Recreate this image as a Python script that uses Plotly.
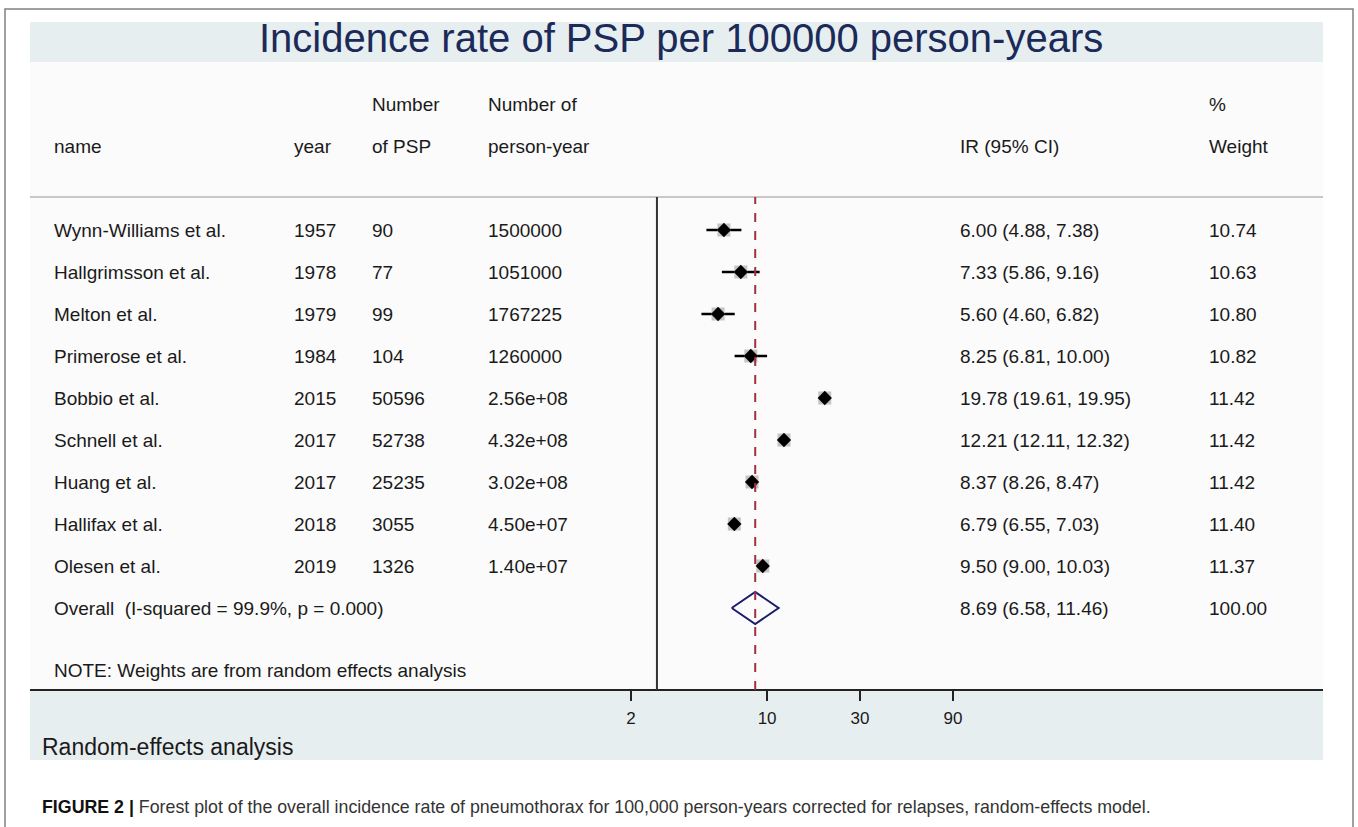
import math
import plotly.graph_objects as go

# ---------------- data ----------------
names = ["Wynn-Williams et al.", "Hallgrimsson et al.", "Melton et al.", "Primerose et al.",
         "Bobbio et al.", "Schnell et al.", "Huang et al.", "Hallifax et al.", "Olesen et al."]
years = ["1957", "1978", "1979", "1984", "2015", "2017", "2017", "2018", "2019"]
n_psp = ["90", "77", "99", "104", "50596", "52738", "25235", "3055", "1326"]
person_years = ["1500000", "1051000", "1767225", "1260000", "2.56e+08", "4.32e+08",
                "3.02e+08", "4.50e+07", "1.40e+07"]
ir = [6.00, 7.33, 5.60, 8.25, 19.78, 12.21, 8.37, 6.79, 9.50]
ir_lo = [4.88, 5.86, 4.60, 6.81, 19.61, 12.11, 8.26, 6.55, 9.00]
ir_hi = [7.38, 9.16, 6.82, 10.00, 19.95, 12.32, 8.47, 7.03, 10.03]
weights = ["10.74", "10.63", "10.80", "10.82", "11.42", "11.42", "11.42", "11.40", "11.37"]

overall_label = "Overall  (I-squared = 99.9%, p = 0.000)"
overall_ir, overall_lo, overall_hi = 8.69, 6.58, 11.46
overall_weight = "100.00"
null_value = 2.718
tick_vals = [2, 10, 30, 90]
tick_text = ["2", "10", "30", "90"]

# ---------------- geometry ----------------
W, H = 1358, 827
ROW0, ROWH = 230, 42
X0, X1 = 30, 1323
PX_PER_DEC = 194.7
a = math.log10(2) - (631 - X0) / PX_PER_DEC
b = a + (X1 - X0) / PX_PER_DEC

def px(x):
    return x / W

def py(y):
    return 1 - y / H

rows = list(range(len(names)))
overall_row = len(names)

TXT = "#1a1a1a"
FONT = "Liberation Sans, Arial, sans-serif"
BAND = "#e7eef0"
FS = 19

fig = go.Figure()

# CI lines
for i in rows:
    fig.add_trace(go.Scatter(x=[ir_lo[i], ir_hi[i]], y=[i, i], mode="lines",
                             line=dict(color="black", width=2.5), showlegend=False,
                             hoverinfo="skip"))
# weight boxes
fig.add_trace(go.Scatter(x=ir, y=rows, mode="markers",
                         marker=dict(symbol="square", size=13, color="#c4c4c4"),
                         showlegend=False, hoverinfo="skip"))
# point estimates
fig.add_trace(go.Scatter(x=ir, y=rows, mode="markers",
                         marker=dict(symbol="diamond", size=11, color="black"),
                         showlegend=False))
# overall diamond
dh = 16 / ROWH
fig.add_trace(go.Scatter(
    x=[overall_lo, overall_ir, overall_hi, overall_ir, overall_lo],
    y=[overall_row, overall_row - dh, overall_row, overall_row + dh, overall_row],
    mode="lines", line=dict(color="#1c1c6c", width=2), showlegend=False, hoverinfo="skip"))

shapes = []
# outer frame
shapes.append(dict(type="rect", xref="paper", yref="paper", x0=px(5), x1=px(1353),
                   y0=py(840), y1=py(9), line=dict(color="#808080", width=1.5), layer="below"))
# title band
shapes.append(dict(type="rect", xref="paper", yref="paper", x0=px(X0), x1=px(X1),
                   y0=py(62), y1=py(22), fillcolor=BAND, line=dict(width=0), layer="below"))
# inner panel
shapes.append(dict(type="rect", xref="paper", yref="paper", x0=px(X0), x1=px(X1),
                   y0=py(690), y1=py(62), fillcolor="#fbfbfb", line=dict(width=0), layer="below"))
# bottom band
shapes.append(dict(type="rect", xref="paper", yref="paper", x0=px(X0), x1=px(X1),
                   y0=py(760), y1=py(690), fillcolor=BAND, line=dict(width=0), layer="below"))
# header separator
shapes.append(dict(type="line", xref="paper", yref="paper", x0=px(X0), x1=px(X1),
                   y0=py(197), y1=py(197), line=dict(color="#c8c8c8", width=2)))
# null line
shapes.append(dict(type="line", xref="x", yref="paper", x0=null_value, x1=null_value,
                   y0=py(690), y1=py(197), line=dict(color="#333333", width=2)))
# overall estimate dashed line
shapes.append(dict(type="line", xref="x", yref="paper", x0=overall_ir, x1=overall_ir,
                   y0=py(690), y1=py(197), line=dict(color="#a3303f", width=2, dash="dash")))

ann = []

def t(x, y, text, size=FS, color=TXT, yref="paper", xanchor="left"):
    ann.append(dict(x=px(x), y=y, xref="paper", yref=yref, text=text, showarrow=False,
                    xanchor=xanchor, yanchor="middle", font=dict(size=size, color=color, family=FONT)))

# title
t(681, py(38), "Incidence rate of PSP per 100000 person-years", size=40, color="#1b2a58", xanchor="center")
# headers
t(370, py(104), "Number")
t(486, py(104), "Number of")
t(1207, py(104), "%")
t(52, py(146), "name")
t(292, py(146), "year")
t(370, py(146), "of PSP")
t(486, py(146), "person-year")
t(958, py(146), "IR (95% CI)")
t(1207, py(146), "Weight")

for i in rows:
    t(52, i, names[i], yref="y")
    t(292, i, years[i], yref="y")
    t(370, i, n_psp[i], yref="y")
    t(486, i, person_years[i], yref="y")
    t(958, i, f"{ir[i]:.2f} ({ir_lo[i]:.2f}, {ir_hi[i]:.2f})", yref="y")
    t(1207, i, weights[i], yref="y")

t(52, overall_row, overall_label, yref="y")
t(958, overall_row, f"{overall_ir:.2f} ({overall_lo:.2f}, {overall_hi:.2f})", yref="y")
t(1207, overall_row, overall_weight, yref="y")

t(52, py(670), "NOTE: Weights are from random effects analysis")
t(40, py(747), "Random-effects analysis", size=23)
t(40, py(807), "<b><span style='color:#111111'>FIGURE 2 |</span></b> Forest plot of the overall incidence rate of pneumothorax for 100,000 person-years corrected for relapses, random-effects model.",
  size=17.8, color="#333333")

fig.update_layout(
    width=W, height=H, margin=dict(l=0, r=0, t=0, b=0),
    paper_bgcolor="white", plot_bgcolor="rgba(0,0,0,0)",
    shapes=shapes, annotations=ann, showlegend=False,
    xaxis=dict(type="log", range=[a, b], domain=[px(X0), px(X1)], anchor="free",
               position=py(690), showgrid=False, zeroline=False, showline=True,
               linecolor="#222222", linewidth=2, ticks="outside", ticklen=10, tickwidth=2,
               tickcolor="#222222", tickvals=tick_vals, ticktext=tick_text,
               ticklabelstandoff=3,
               tickfont=dict(size=17, color=TXT, family=FONT), fixedrange=True),
    yaxis=dict(range=[(H - ROW0) / ROWH, -ROW0 / ROWH], domain=[0, 1], visible=False,
               fixedrange=True),
)

fig.write_html("out.html", config={"displayModeBar": False},
               post_script="document.body.style.margin='0';document.body.style.overflow='hidden';")
